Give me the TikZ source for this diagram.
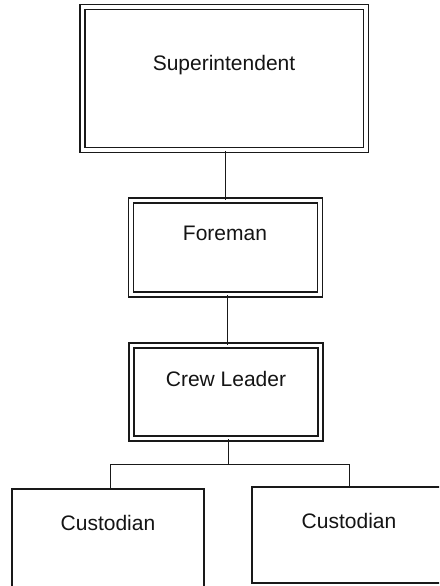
\documentclass[tikz,border=0pt]{standalone}
\usepackage{fontspec}
\setmainfont{Liberation Sans}
\begin{document}
\begin{tikzpicture}[x=1pt,y=-1pt,
  ink/.style={black!90},
  dbox/.style={draw, ink, double=white, double distance=3.4pt, line width=1.6pt,
    rectangle, inner sep=0pt, anchor=center},
  sbox/.style={draw, ink, line width=1.6pt, rectangle, inner sep=0pt, anchor=center},
  title/.style={font=\fontsize{21}{24}\selectfont, text=black!92, anchor=center, inner sep=0pt},
  link/.style={draw, ink, line width=0.9pt}]
  \useasboundingbox (0,0) rectangle (439,586);
  \fill[white] (0,0) rectangle (439,586);
  \clip (0,0) rectangle (439,586);

  % boxes
  \node[dbox, minimum width=283.5pt, minimum height=143pt] (sup)  at (224.25,78.5) {};
  \node[dbox, minimum width=189pt,   minimum height=94pt]  (fore) at (225.5,247.5) {};
  \node[dbox, minimum width=189pt,   minimum height=93pt]  (crew) at (226,392) {};
  \node[sbox, minimum width=192pt,   minimum height=101pt] (cl)   at (108,539.5) {};
  \node[sbox, minimum width=193pt,   minimum height=96pt]  (cr)   at (348.5,535) {};

  % labels
  \node[title] (tsup)  at (224,65)  {Superintendent};
  \node[title] (tfore) at (225,233) {Foreman};
  \node[title] (tcrew) at (226,379) {Crew Leader};
  \node[title] (tcl)   at (108,523) {Custodian};
  \node[title] (tcr)   at (349,521) {Custodian};

  % reporting lines
  \coordinate (bus)  at (228,464);
  \coordinate (busL) at (110,464);
  \coordinate (busR) at (349,464);
  \path[link] (sup.south -| 225,0) -- (fore.north -| 225,0);
  \path[link] (fore.south -| 227,0) -- (crew.north -| 227,0);
  \path[link] (crew.south -| bus) -- (bus);
  \path[link] (busL) -- (busR);
  \path[link] (busL) -- (busL |- cl.north);
  \path[link] (busR) -- (busR |- cr.north);
\end{tikzpicture}
\end{document}
